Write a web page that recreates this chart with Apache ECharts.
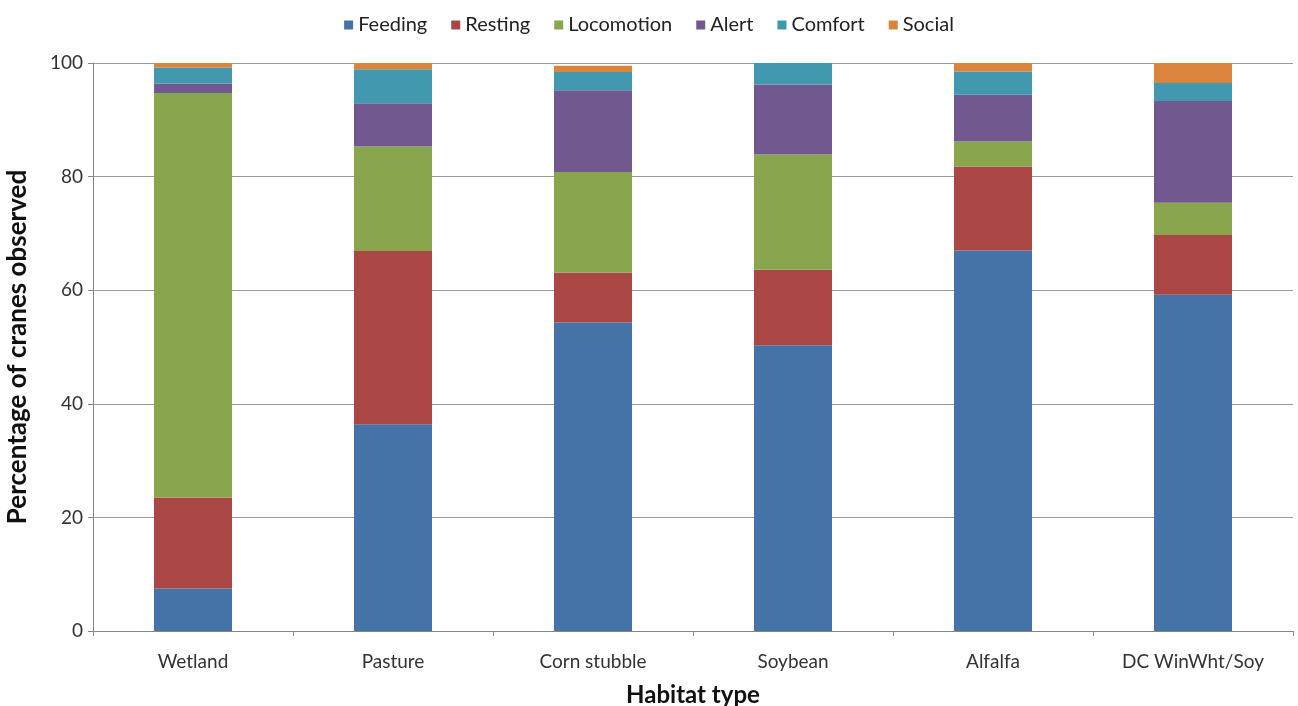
<!DOCTYPE html>
<html lang="en">
<head>
    <meta charset="utf-8">
    <title>Crane behaviour by habitat</title>
    <script src="https://cdn.jsdelivr.net/npm/echarts@6/dist/echarts.min.js"></script>
    <style>
        html, body { margin: 0; padding: 0; background: #fff; }
        #chart { width: 1298px; height: 706px; }
    </style>
</head>
<body>
    <div id="chart"></div>
    <script type="text/javascript">
        // habitat categories
        var habitats = ["Wetland", "Pasture", "Corn stubble", "Soybean", "Alfalfa", "DC WinWht/Soy"];
        // percentage of cranes per behaviour
        var feeding    = [7.5, 36.4, 54.3, 50.3, 67.0, 59.2];
        var resting    = [16.0, 30.5, 8.8, 13.3, 14.8, 10.5];
        var locomotion = [71.2, 18.4, 17.7, 20.3, 4.4, 5.7];
        var alert      = [1.7, 7.6, 14.4, 12.3, 8.2, 17.9];
        var comfort    = [2.8, 6.0, 3.2, 3.8, 4.1, 3.2];
        var social     = [0.8, 1.1, 1.1, 0, 1.5, 3.6];
        var yTicks     = [0, 20, 40, 60, 80, 100];

        var behaviours = [
            { name: "Feeding", data: feeding, color: "#4572A7" },
            { name: "Resting", data: resting, color: "#AA4643" },
            { name: "Locomotion", data: locomotion, color: "#89A54E" },
            { name: "Alert", data: alert, color: "#71588F" },
            { name: "Comfort", data: comfort, color: "#4198AF" },
            { name: "Social", data: social, color: "#DB843D" }
        ];

        var font = "Lato, 'Open Sans', sans-serif";
        var chart = echarts.init(document.getElementById("chart"));
        chart.setOption({
            animation: false,
            backgroundColor: "#fff",
            textStyle: { fontFamily: font },
            legend: {
                top: 10,
                left: "center",
                itemWidth: 9,
                itemHeight: 9,
                itemGap: 24,
                icon: "rect",
                textStyle: { fontSize: 20, color: "#222", fontFamily: font },
                data: behaviours.map(function (b) { return b.name; })
            },
            grid: { left: 93, right: 5, top: 63, bottom: 75, containLabel: false, outerBoundsMode: "none" },
            xAxis: {
                type: "category",
                data: habitats,
                name: "Habitat type",
                nameLocation: "middle",
                nameGap: 52,
                nameTextStyle: { fontSize: 24, fontWeight: "bold", color: "#111", fontFamily: font },
                axisLine: { lineStyle: { color: "#868686" } },
                axisTick: { show: true, alignWithLabel: false, length: 5, lineStyle: { color: "#868686" } },
                axisLabel: { fontSize: 19, color: "#333", margin: 21, fontFamily: font }
            },
            yAxis: {
                type: "value",
                min: 0,
                max: 100,
                interval: 20,
                name: "Percentage of cranes observed",
                nameLocation: "middle",
                nameGap: 62,
                nameTextStyle: { fontSize: 26, fontWeight: "bold", color: "#111", fontFamily: font },
                axisLine: { show: true, lineStyle: { color: "#868686" } },
                axisTick: { show: true, length: 5, lineStyle: { color: "#868686" } },
                axisLabel: {
                    fontSize: 19, color: "#333", margin: 10, fontFamily: font,
                    formatter: function (v) { return yTicks.indexOf(v) >= 0 ? String(v) : ""; }
                },
                splitLine: { show: true, lineStyle: { color: "#9a9a9a", width: 1 } }
            },
            series: behaviours.map(function (b) {
                return {
                    name: b.name,
                    type: "bar",
                    stack: "total",
                    barWidth: "39%",
                    itemStyle: { color: b.color },
                    data: b.data
                };
            })
        });
    </script>
</body>
</html>
